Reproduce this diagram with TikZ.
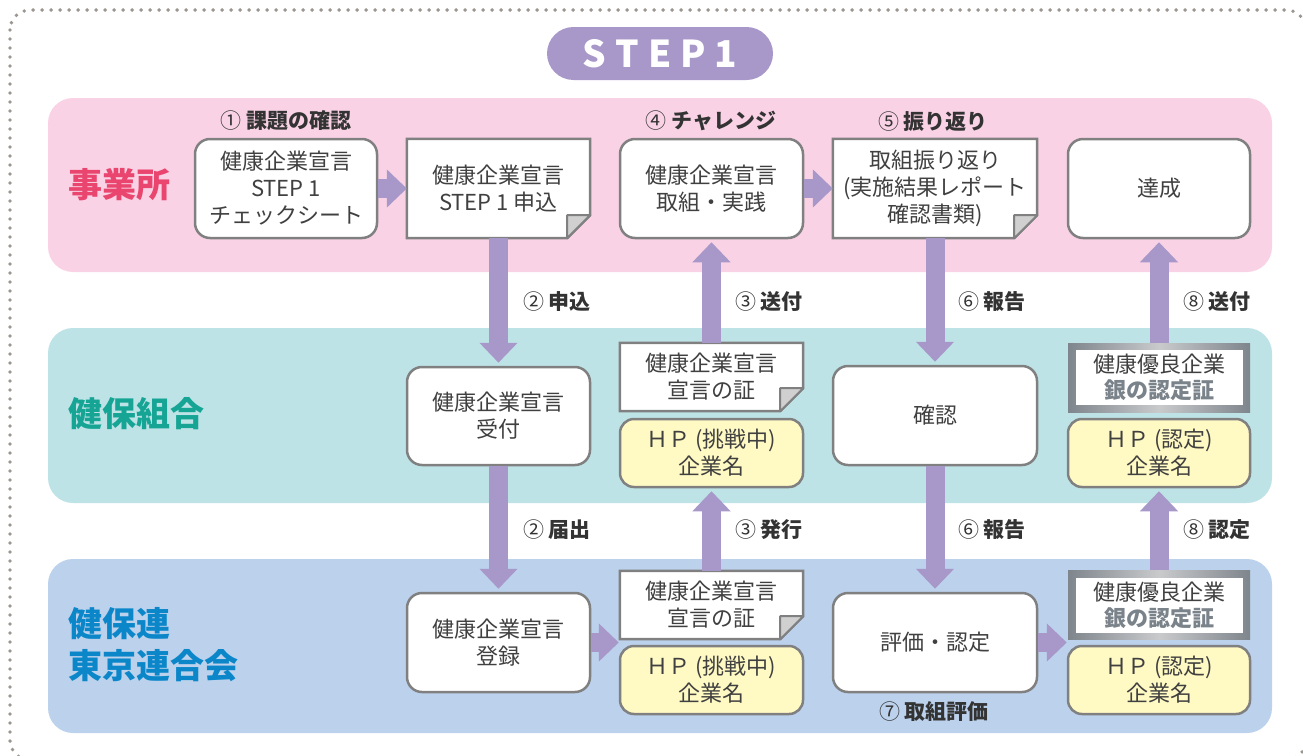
\documentclass[tikz,border=0pt]{standalone}
\usepackage{fontspec}
\setmainfont{Noto Sans CJK JP}
\usetikzlibrary{arrows.meta}
\pgfdeclarelayer{bg}
\pgfdeclarelayer{mid}
\pgfsetlayers{bg,mid,main}
\definecolor{pinkband}{HTML}{F9D3E5}
\definecolor{cyanband}{HTML}{BEE3E6}
\definecolor{blueband}{HTML}{BBD1EC}
\definecolor{lav}{HTML}{A897C9}
\definecolor{boxline}{HTML}{808080}
\definecolor{txt}{HTML}{404040}
\definecolor{labtxt}{HTML}{333333}
\definecolor{hpyellow}{HTML}{FFF9C4}
\definecolor{foldgray}{HTML}{D0D0D0}
\definecolor{dotgray}{HTML}{9C9691}
\definecolor{lanepink}{HTML}{E9456F}
\definecolor{laneteal}{HTML}{16A595}
\definecolor{laneblue}{HTML}{0B87C9}
\definecolor{silverdark}{HTML}{7E858C}
\definecolor{silverlight}{HTML}{C9CACC}
\definecolor{silvertext}{HTML}{7A828A}
\newcommand{\stepnum}[1]{{\mdseries #1}}
\begin{document}
\begin{tikzpicture}[x=1pt,y=-1pt,
  box/.style={draw=boxline, line width=2.5pt, fill=white, rounded corners=15pt,
    minimum width=183pt, minimum height=99pt, align=center, text=txt,
    font=\fontsize{22}{27}\selectfont, inner sep=0pt},
  docbox/.style={rectangle, draw=none, minimum width=183pt, minimum height=99pt,
    align=center, text=txt, font=\fontsize{22}{27}\selectfont, inner sep=0pt},
  hpbox/.style={box, fill=hpyellow, minimum height=68pt, rounded corners=14pt},
  silver/.style={rectangle, minimum width=182pt, minimum height=69pt,
    left color=silverdark, right color=silverdark, middle color=silverlight,
    path picture={\fill[white] ([xshift=7.5pt,yshift=-7pt]path picture bounding box.north west)
      rectangle ([xshift=-7.5pt,yshift=7pt]path picture bounding box.south east);},
    align=center, text=txt, font=\fontsize{22}{26}\selectfont, inner sep=0pt},
  fat/.style={draw=lav, line width=19pt, -{Triangle[width=37pt,length=20pt]}},
  steplab/.style={text=labtxt, font=\bfseries\fontsize{21}{24}\selectfont, inner sep=0pt},
  lane/.style={font=\bfseries\fontsize{34}{42}\selectfont, inner sep=0pt, anchor=west, align=left},
  badge/.style={fill=lav, rounded corners=26.5pt, minimum width=226pt, minimum height=53pt,
    text=white, font=\bfseries\fontsize{37}{37}\selectfont, inner sep=0pt}
]
\useasboundingbox (0,0) rectangle (1303,755);
\begin{pgfonlayer}{bg}
\draw[dotgray, line width=3.8pt, line cap=round, dash pattern=on 0pt off 9pt, rounded corners=20pt]
  (10,10) rectangle (1306,760);
\fill[pinkband, rounded corners=25pt] (48,98) rectangle (1272,272);
\fill[cyanband, rounded corners=25pt] (48,328) rectangle (1272,503);
\fill[blueband, rounded corners=25pt] (48,559) rectangle (1272,733);
\end{pgfonlayer}

\node[badge] (step) at (660,53.5) {S\kern9pt T\kern9pt E\kern9pt P\kern9pt 1};

\node[lane, text=lanepink] (lj) at (68,185) {事業所};
\node[lane, text=laneteal] (lk) at (68,414) {健保組合};
\node[lane, text=laneblue] (lr) at (68,645) {健保連\\東京連合会};

% top row
\node[box, minimum width=182pt] (n1) at (286,188.5) {健康企業宣言\\STEP 1\\チェックシート};
\node[docbox] (n2) at (498.5,188.5) {健康企業宣言\\STEP 1 申込};
\node[box] (n3) at (711.5,188.5) {健康企業宣言\\取組・実践};
\node[docbox, minimum width=204pt] (n4) at (935,188.5) {取組振り返り\\(実施結果レポート\\確認書類)};
\node[box, minimum width=182pt] (n5) at (1159,188.5) {達成};

% middle row
\node[box, minimum height=98pt] (uke) at (498.5,416) {健康企業宣言\\受付};
\node[docbox, minimum height=68pt] (sa) at (711.5,377) {健康企業宣言\\宣言の証};
\node[hpbox] (ha) at (711.5,453) {ＨＰ (挑戦中)\\企業名};
\node[box, minimum width=204pt] (kak) at (935,415.5) {確認};
\node[silver] (ga) at (1159,377.5) {健康優良企業\\{\bfseries\color{silvertext}銀の認定証}};
\node[hpbox, minimum width=182pt] (hb) at (1159,453) {ＨＰ (認定)\\企業名};

% bottom row
\node[box] (tou) at (498.5,642.5) {健康企業宣言\\登録};
\node[docbox, minimum height=68pt] (sb) at (711.5,605) {健康企業宣言\\宣言の証};
\node[hpbox] (hc) at (711.5,680) {ＨＰ (挑戦中)\\企業名};
\node[box, minimum width=204pt] (hyo) at (935,642.5) {評価・認定};
\node[silver] (gb) at (1159,605) {健康優良企業\\{\bfseries\color{silvertext}銀の認定証}};
\node[hpbox, minimum width=182pt] (hd) at (1159,680) {ＨＰ (認定)\\企業名};

\begin{pgfonlayer}{mid}
\foreach \n in {n2,n4,sa,sb}{
  \filldraw[draw=boxline, fill=white, line width=2.5pt, line join=miter]
    (\n.north west) -- (\n.north east) -- ([yshift=23pt]\n.south east)
    -- ([xshift=-23pt]\n.south east) -- (\n.south west) -- cycle;
  \filldraw[draw=boxline, fill=foldgray, line width=2pt, line join=round]
    ([yshift=23pt]\n.south east) -- ([xshift=-23pt,yshift=23pt]\n.south east)
    -- ([xshift=-23pt]\n.south east) -- cycle;
}
\end{pgfonlayer}

% step labels
\node[steplab] (l1) at (286,121) {\stepnum{①} 課題の確認};
\node[steplab] (l4) at (711,121) {\stepnum{④} チャレンジ};
\node[steplab] (l5) at (933,122) {\stepnum{⑤} 振り返り};
\node[steplab] (l2a) at (557,302) {\stepnum{②} 申込};
\node[steplab] (l3a) at (769,302) {\stepnum{③} 送付};
\node[steplab] (l6a) at (992,302) {\stepnum{⑥} 報告};
\node[steplab] (l8a) at (1217,302) {\stepnum{⑧} 送付};
\node[steplab] (l2b) at (557,530) {\stepnum{②} 届出};
\node[steplab] (l3b) at (769,530) {\stepnum{③} 発行};
\node[steplab] (l6b) at (992,530) {\stepnum{⑥} 報告};
\node[steplab] (l8b) at (1217,530) {\stepnum{⑧} 認定};
\node[steplab] (l7) at (934,712) {\stepnum{⑦} 取組評価};

% arrows
\draw[fat] (n1.east) -- (n2.west);
\draw[fat] (n3.east) -- (n4.west);
\draw[fat, shorten >=3pt] (n2.south) -- (uke.north);
\draw[fat, shorten >=3pt] (sa.north) -- (n3.south);
\draw[fat, shorten >=3pt] (n4.south) -- (kak.north);
\draw[fat, shorten >=3pt] (ga.north) -- (n5.south);
\draw[fat, shorten >=3pt] (uke.south) -- (tou.north);
\draw[fat, shorten >=3pt] (sb.north) -- (ha.south);
\draw[fat, shorten >=3pt] (kak.south) -- (hyo.north);
\draw[fat, shorten >=3pt] (gb.north) -- (hb.south);
\draw[fat] (tou.east) -- (tou.east -| hc.west);
\draw[fat] (hyo.east) -- (hyo.east -| hd.west);
\end{tikzpicture}
\end{document}
